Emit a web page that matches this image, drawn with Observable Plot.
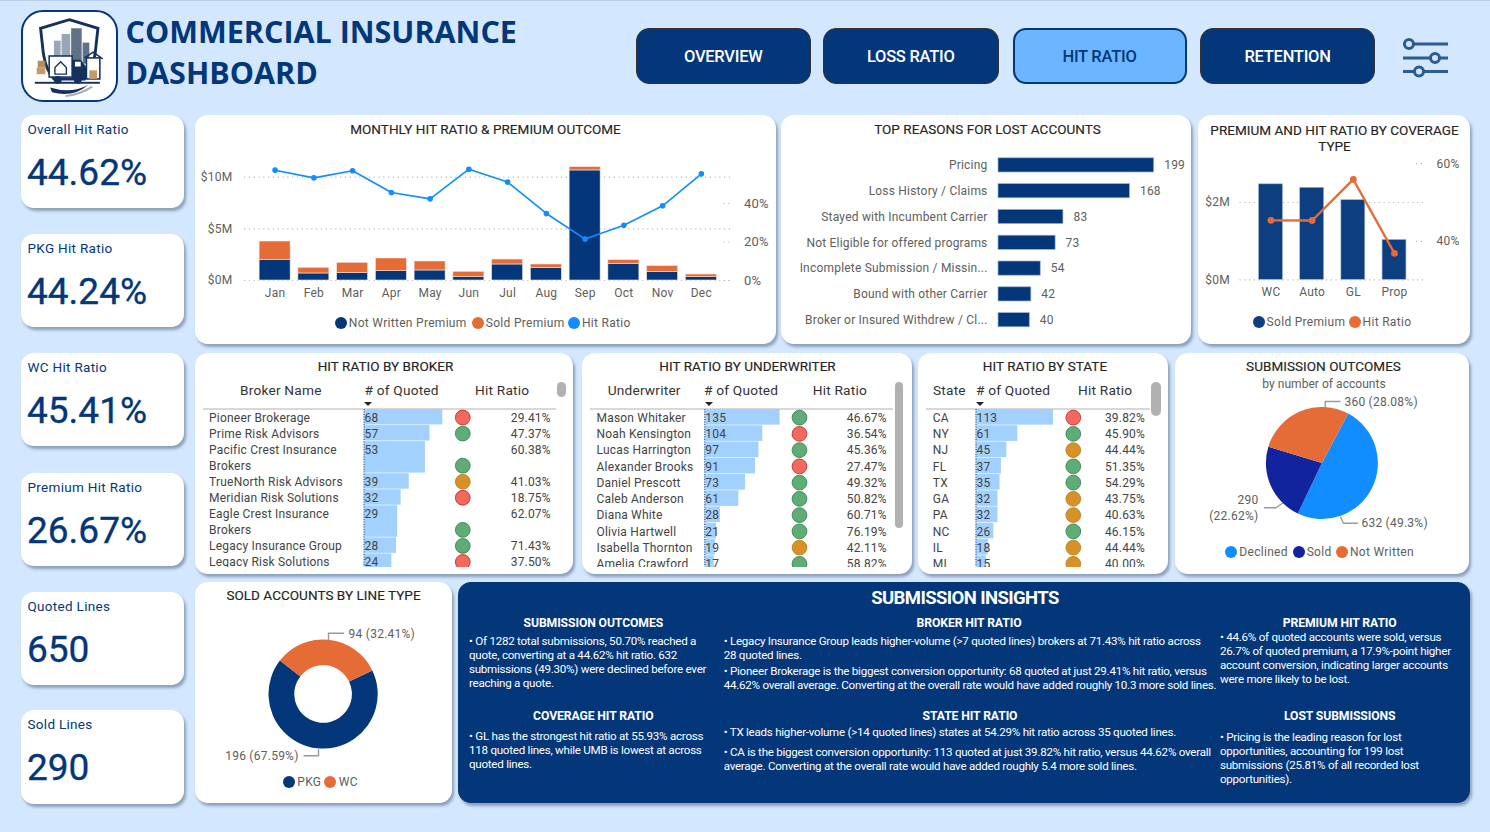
<!DOCTYPE html>
<html><head><meta charset="utf-8">
<script src="https://cdn.jsdelivr.net/npm/d3@7"></script>
<script src="https://cdn.jsdelivr.net/npm/@observablehq/plot@0.6"></script>
<style>
html,body{margin:0;padding:0;background:#D3E8FE;}
#page{position:relative;width:1490px;height:832px;overflow:hidden;background:#D3E8FE;font-family:Roboto,sans-serif;border-top:1px solid #B7CDE6;box-sizing:border-box;}
.abs{position:absolute;white-space:nowrap;}
.card{position:absolute;background:#fff;border-radius:13px;box-shadow:2px 3px 3px rgba(70,90,120,.5);}
.kpiL{position:absolute;left:27.5px;color:#03377A;font-size:13.5px;letter-spacing:.3px;line-height:16px;}
.kpiV{position:absolute;left:27px;color:#03377A;font-size:37px;font-weight:400;line-height:40px;letter-spacing:0;-webkit-text-stroke:.35px #03377A;}
.title{position:absolute;color:#252423;font-size:13.5px;letter-spacing:.04px;text-align:center;line-height:16px;transform:translateX(-50%);white-space:nowrap;-webkit-text-stroke:.15px #252423;}
.nav{position:absolute;top:27px;height:56px;border-radius:13px;background:#03377A;color:#fff;border:1px solid #333;box-sizing:border-box;display:flex;align-items:center;justify-content:center;font-size:16.5px;font-weight:500;letter-spacing:-.25px;}
.nav.on{background:#6CB6FF;color:#03377A;border:2px solid #03377A;}
.lg{position:absolute;color:#605E5C;font-size:12px;letter-spacing:.3px;white-space:nowrap;line-height:14px;}
.dot{position:absolute;width:12px;height:12px;border-radius:50%;}
.th{position:absolute;top:381px;color:#333;font-size:13.7px;letter-spacing:.2px;white-space:nowrap;line-height:17px;}
.ln{position:absolute;left:0;height:1.5px;background:#D8D8D8;}
.arrow{position:absolute;width:0;height:0;border-left:4px solid transparent;border-right:4px solid transparent;border-top:4.5px solid #252423;}
.sb{position:absolute;background:#B3B1AF;border-radius:5px;}
.ins{position:absolute;color:#fff;white-space:nowrap;font-size:11.6px;letter-spacing:-.255px;line-height:14px;}
.insH{position:absolute;color:#fff;white-space:nowrap;font-size:12.2px;font-weight:700;line-height:14px;transform:translateX(-50%);letter-spacing:-.1px;}
</style></head>
<body><div id="page"></div>
<script>
// ---------- data ----------
const months = ["Jan","Feb","Mar","Apr","May","Jun","Jul","Aug","Sep","Oct","Nov","Dec"];
const notWrittenPremium = [1.97,0.68,0.71,0.90,0.97,0.32,1.55,1.19,10.65,1.58,0.81,0.32];
const soldPremium = [1.80,0.55,1.00,1.23,0.87,0.52,0.48,0.36,0.32,0.39,0.58,0.26];
const monthlyHitRatio = [57.3,53.3,57.0,45.7,42.4,57.8,51.1,34.8,21.5,28.7,38.8,55.4];

const lostReasons = ["Pricing","Loss History / Claims","Stayed with Incumbent Carrier","Not Eligible for offered programs","Incomplete Submission / Missin...","Bound with other Carrier","Broker or Insured Withdrew / Cl..."];
const lostCounts = [199,168,83,73,54,42,40];

const coverageTypes = ["WC","Auto","GL","Prop"];
const coveragePremium = [2.47,2.38,2.06,1.03];
const coverageHitRatio = [45.41,45.36,55.93,36.9];

const brokerNames = ["Pioneer Brokerage","Prime Risk Advisors","Pacific Crest Insurance\nBrokers","TrueNorth Risk Advisors","Meridian Risk Solutions","Eagle Crest Insurance\nBrokers","Legacy Insurance Group","Legacy Risk Solutions"];
const brokerQuoted = [68,57,53,39,32,29,28,24];
const brokerHit = [29.41,47.37,60.38,41.03,18.75,62.07,71.43,37.50];

const uwNames = ["Mason Whitaker","Noah Kensington","Lucas Harrington","Alexander Brooks","Daniel Prescott","Caleb Anderson","Diana White","Olivia Hartwell","Isabella Thornton","Amelia Crawford"];
const uwQuoted = [135,104,97,91,73,61,28,21,19,17];
const uwHit = [46.67,36.54,45.36,27.47,49.32,50.82,60.71,76.19,42.11,58.82];

const stateNames = ["CA","NY","NJ","FL","TX","GA","PA","NC","IL","MI"];
const stateQuoted = [113,61,45,37,35,32,32,26,18,15];
const stateHit = [39.82,45.90,44.44,51.35,54.29,43.75,40.63,46.15,44.44,40.00];

const outcomeNames = ["Declined","Sold","Not Written"];
const outcomeCounts = [632,290,360];
const lineTypes = ["PKG","WC"];
const lineCounts = [196,94];

const kpiLabels = ["Overall Hit Ratio","PKG Hit Ratio","WC Hit Ratio","Premium Hit Ratio","Quoted Lines","Sold Lines"];
const kpiValues = ["44.62%","44.24%","45.41%","26.67%","650","290"];
const navLabels = ["OVERVIEW","LOSS RATIO","HIT RATIO","RETENTION"];

// ---------- helpers ----------
const NAVY="#03377A", ORANGE="#E66C37", BLUE="#118DFF", INK="#605E5C";
const page=document.getElementById("page");
function el(cls,css,html){const d=document.createElement("div");d.className=cls;Object.assign(d.style,css);if(html!=null)d.innerHTML=html;page.appendChild(d);return d;}
function px(o){const r={};for(const k in o)r[k]=typeof o[k]==="number"?o[k]+"px":o[k];return r;}
function card(l,t,r,b,bg){return el("card",px({left:l,top:t-1,width:r-l,height:b-t,...(bg?{background:bg}:{})}));}
function place(node,l,t,w,h){const d=el("abs",px({left:l,top:t-1,width:w,height:h,overflow:"hidden"}));d.appendChild(node);}
function title(txt,cx,cy){el("title",px({left:cx,top:cy-10}),txt);}
function legend(items,y){for(const it of items){el("dot",{...px({left:it.c-6,top:y-7}),background:it.color});el("lg",px({left:it.t,top:y-8}),it.label);}}
const svgStyle=(extra={})=>({fontFamily:"Roboto,sans-serif",fontSize:"12px",color:INK,background:"transparent",letterSpacing:".25px",overflow:"hidden",...extra});
const dots="1.2,3.6";
const gridStroke="#BDBBB9";

// ---------- header ----------
el("abs",{...px({left:21,top:9,width:92.5,height:88}),border:"2.5px solid "+NAVY,borderRadius:"22px",background:"#fff"},
`<svg width="92.500" height="88" viewBox="0 0 96 92">
<path d="M48 8 L78 17 L75 44 Q72 62 64 70 L32 70 Q24 62 21 44 L18 17 Z" fill="#fff" stroke="#14305c" stroke-width="3"/>
<g fill="#98A6B8"><rect x="32" y="30" width="7" height="22"/><rect x="40" y="23" width="9" height="30"/></g>
<g fill="#5F7187"><rect x="50" y="17" width="11" height="36"/><rect x="62" y="32" width="7" height="22"/></g>
<rect x="27" y="46" width="24" height="22" fill="#fff" stroke="#14305c" stroke-width="1.6"/>
<path d="M33 58 l6-6 6 6 v7 h-12z" fill="none" stroke="#14305c" stroke-width="1.4"/>
<path d="M51 50 h9 l7 9 v10 h-16z" fill="#14305c"/><rect x="54" y="52" width="6" height="5" fill="#fff"/>
<rect x="66" y="48" width="14" height="22" fill="#fff" stroke="#14305c" stroke-width="1.6"/>
<path d="M64 48 l9-6 10 7" fill="none" stroke="#14305c" stroke-width="1.6"/>
<rect x="69" y="61" width="8" height="9" fill="#C49A6C"/><rect x="14" y="58" width="9" height="7" fill="#C49A6C"/><rect x="15" y="51" width="8" height="7" fill="#B98B5C"/>
<g fill="#14305c"><circle cx="36" cy="71" r="4"/><circle cx="57" cy="71" r="4"/><rect x="12" y="73" width="68" height="2"/></g>
<path d="M28 79 Q50 86 68 76 Q52 90 30 84Z" fill="#14305c"/><path d="M44 88 Q60 86 72 78" fill="none" stroke="#AAB" stroke-width="2"/>
</svg>`);
el("abs",{...px({left:125.5,top:10,lineHeight:41,fontSize:30.5}),color:NAVY,fontFamily:"'Open Sans',sans-serif",fontWeight:"700"},"COMMERCIAL INSURANCE<br>DASHBOARD");
[[635.5,175.5],[823,175.5],[1012.5,174],[1199.8,175.5]].forEach(([l,w],i)=>{
  el("nav"+(i===2?" on":""),px({left:l,width:w}),navLabels[i]);
});
el("abs",px({left:1398,top:32,width:56,height:50}),
`<svg width="56" height="50" viewBox="0 0 56 50"><g stroke="#2C5A93" stroke-width="3" fill="#D3E8FE">
<line x1="5" y1="11" x2="50" y2="11"/><line x1="5" y1="25" x2="50" y2="25"/><line x1="5" y1="38.500" x2="50" y2="38.500"/>
<circle cx="11" cy="11" r="4.500"/><circle cx="37" cy="25" r="4.500"/><circle cx="21" cy="38.500" r="4.500"/></g></svg>`);

// ---------- KPI cards ----------
[[115,208],[234,327],[353,446],[473,566],[592,685],[710,804]].forEach(([t,b],i)=>{
  card(20.7,t,184,b);
  el("kpiL",px({top:t+5}),kpiLabels[i]);
  el("kpiV",px({top:t+37}),kpiValues[i]);
});

// ---------- Monthly chart ----------
card(194.5,115,776.4,344);
title("MONTHLY HIT RATIO &amp; PREMIUM OUTCOME",485.5,130);
{
  const W=582,H=190,ml=50,mr=44.5,mt=6,mb=60;
  const series=["Not Written Premium","Sold Premium"];
  const long=months.flatMap((m,i)=>[{month:m,series:series[0],value:notWrittenPremium[i]},{month:m,series:series[1],value:soldPremium[i]}]);
  const xOpt={type:"band",domain:months,paddingInner:.2,paddingOuter:.39,round:false,axis:null};
  const bars=Plot.plot({width:W,height:H,marginLeft:ml,marginRight:mr,marginTop:mt,marginBottom:mb,style:svgStyle(),
    x:xOpt,y:{domain:[0,12],axis:null},color:{domain:series,range:[NAVY,ORANGE]},
    marks:[
      Plot.ruleY([0,5,10],{stroke:gridStroke,strokeDasharray:dots,strokeWidth:1.2}),
      Plot.barY(long,{x:"month",y:"value",fill:"series",stroke:"#F2E6DF",strokeWidth:.6}),
      Plot.axisX({anchor:"bottom",tickSize:0,tickPadding:8,fontSize:12,label:null}),
      Plot.axisY({ticks:[0,5,10],tickFormat:d=>`$${d}M`,tickSize:0,tickPadding:12,fontSize:12,label:null})
    ]});
  place(bars,194,150,W,H);
  const rows=months.map((m,i)=>({month:m,hit:monthlyHitRatio[i]}));
  const line=Plot.plot({width:W,height:H,marginLeft:ml,marginRight:mr,marginTop:mt,marginBottom:mb,style:svgStyle(),
    x:xOpt,y:{domain:[0,64.4],axis:null},
    marks:[
      Plot.ruleY([0,20,40],{stroke:gridStroke,strokeDasharray:dots,strokeWidth:1.2,insetLeft:W-ml-mr-8}),
      Plot.line(rows,{x:"month",y:"hit",stroke:BLUE,strokeWidth:1.6}),
      Plot.dot(rows,{x:"month",y:"hit",fill:BLUE,r:2.8}),
      Plot.axisY({anchor:"right",ticks:[0,20,40],tickFormat:d=>d+"%",tickSize:0,tickPadding:12,fontSize:13,label:null})
    ]});
  place(line,194,150,W,H);
  legend([{c:340.5,t:348.8,color:NAVY,label:"Not Written Premium"},{c:478,t:485.8,color:ORANGE,label:"Sold Premium"},{c:573.9,t:582,color:BLUE,label:"Hit Ratio"}],323);
}

// ---------- Top reasons ----------
card(781,115,1190.7,344);
title("TOP REASONS FOR LOST ACCOUNTS",987.5,130);
{
  const W=411,H=185,rows=lostReasons.map((r,i)=>({reason:r,count:lostCounts[i]}));
  place(Plot.plot({width:W,height:H,marginLeft:217,marginRight:38.3,marginTop:2,marginBottom:2.400,style:svgStyle({letterSpacing:".2px"}),
    x:{domain:[0,199],axis:null},y:{domain:lostReasons,paddingInner:.45,paddingOuter:.225,round:false,axis:null},
    marks:[
      Plot.barX(rows,{y:"reason",x:"count",fill:NAVY,stroke:"#9DB2CF",strokeWidth:.7}),
      Plot.text(rows,{y:"reason",x:"count",text:d=>String(d.count),dx:10,textAnchor:"start",fill:INK,fontSize:12}),
      Plot.axisY({tickSize:0,tickPadding:11,fontSize:12,label:null})
    ]}),781,150,W,H);
}

// ---------- Coverage ----------
card(1198,115,1470,344);
el("title",px({left:1334.500,top:121}),"PREMIUM AND HIT RATIO BY COVERAGE<br>TYPE");
{
  const W=272,H=190,ml=41.5,mr=45,mt=5,mb=60.7;
  const rows=coverageTypes.map((c,i)=>({type:c,prem:coveragePremium[i],hit:coverageHitRatio[i]}));
  const xOpt={type:"band",domain:coverageTypes,paddingInner:.42,paddingOuter:.463,round:false,axis:null};
  place(Plot.plot({width:W,height:H,marginLeft:ml,marginRight:mr,marginTop:mt,marginBottom:mb,style:svgStyle(),
    x:xOpt,y:{domain:[0,3.216],axis:null},
    marks:[
      Plot.ruleY([0,2],{stroke:gridStroke,strokeDasharray:dots,strokeWidth:1.2}),
      Plot.barY(rows,{x:"type",y:"prem",fill:"#0D3E80",stroke:"#9DB2CF",strokeWidth:.6}),
      Plot.axisX({anchor:"bottom",tickSize:0,tickPadding:8,fontSize:12,label:null}),
      Plot.axisY({ticks:[0,2],tickFormat:d=>`$${d}M`,tickSize:0,tickPadding:10,fontSize:12,label:null})
    ]}),1198,150,W,H);
  place(Plot.plot({width:W,height:H,marginLeft:ml,marginRight:mr,marginTop:mt,marginBottom:mb,style:svgStyle(),
    x:xOpt,y:{domain:[30.1,62.1],axis:null},
    marks:[
      Plot.ruleY([40,60],{stroke:gridStroke,strokeDasharray:dots,strokeWidth:1.2,insetLeft:W-ml-mr-9}),
      Plot.line(rows,{x:"type",y:"hit",stroke:ORANGE,strokeWidth:2.4}),
      Plot.dot(rows,{x:"type",y:"hit",fill:ORANGE,r:3.4}),
      Plot.axisY({anchor:"right",ticks:[40,60],tickFormat:d=>d+"%",tickSize:0,tickPadding:11,fontSize:12,label:null})
    ]}),1198,150,W,H);
  legend([{c:1258.6,t:1266.6,color:"#0D3E80",label:"Sold Premium"},{c:1355,t:1362.6,color:ORANGE,label:"Hit Ratio"}],322);
}

// ---------- Tables ----------
const statusScale=d3.scaleThreshold().domain([40,45]);
const fillOf=statusScale.copy().range(["#F4695C","#D69228","#5FAD76"]);
const strokeOf=statusScale.copy().range(["#B3261E","#B47A1C","#34794A"]);
function hitTable({names,quoted,hit,cardL,cardR,x0,xMax,nameX,dotX,pctR,rowH}){
  const W=cardR-cardL,H=157.4;
  let cum=0;
  const rows=names.map((n,i)=>{const lines=n.split("\n").length,start=cum;cum+=lines;
    return {name:n,quoted:quoted[i],hit:hit[i],start,end:cum,textY:start+.5,dotY:cum-.5};});
  const f=d=>d.toFixed(2)+"%";
  place(Plot.plot({width:W,height:H,margin:0,style:svgStyle({letterSpacing:".2px"}),
    x:{domain:[0,d3.max(quoted)],range:[x0-cardL,xMax-cardL],axis:null},
    y:{domain:[0,H/rowH],range:[0,H],axis:null},
    marks:[
      Plot.rect(rows,{x1:()=>0,x2:"quoted",y1:"start",y2:"end",fill:"#A3D1FF",insetBottom:.6}),
      Plot.ruleX([0],{stroke:"#33475E",strokeDasharray:"1,1.500",strokeWidth:1}),
      Plot.text(rows,{y:"start",text:"name",frameAnchor:"left",dx:nameX-cardL,textAnchor:"start",lineAnchor:"top",dy:1,lineHeight:1.333,fill:"#444",fontSize:12}),
      Plot.text(rows,{y:"textY",text:d=>String(d.quoted),frameAnchor:"left",dx:x0-cardL+.5,dy:.5,textAnchor:"start",fill:"#444",fontSize:12}),
      Plot.dot(rows,{y:"dotY",frameAnchor:"left",dx:dotX-cardL,r:7.400,fill:d=>fillOf(d.hit),stroke:d=>strokeOf(d.hit),strokeWidth:.8}),
      Plot.text(rows,{y:"textY",text:d=>f(d.hit),frameAnchor:"right",dx:pctR-cardR,dy:.5,textAnchor:"end",fill:"#444",fontSize:12})
    ]}),cardL,409.3,W,H);
}
function tableChrome(ths,lnL,lnR,arrowX,sb){
  ths.forEach(([t,x])=>el("th",px({left:x}),t));
  el("ln",px({left:lnL,top:407,width:lnR-lnL}));
  el("arrow",px({left:arrowX-4,top:400.5}));
  el("sb",px({left:sb[0],top:sb[1]-1,width:sb[2],height:sb[3]}));
}
card(194.7,353,573,574);
title("HIT RATIO BY BROKER",385.500,367);
tableChrome([["Broker Name",240],["# of Quoted",364.500],["Hit Ratio",475]],203,556,368,[557.3,382,8.4,14.7]);
hitTable({names:brokerNames,quoted:brokerQuoted,hit:brokerHit,cardL:194.7,cardR:573,x0:363.3,xMax:442,nameX:208.3,dotX:462,pctR:550,rowH:16.05});

card(581.7,353,911.7,574);
title("HIT RATIO BY UNDERWRITER",747.500,367);
tableChrome([["Underwriter",607.7],["# of Quoted",704],["Hit Ratio",812.7]],590,893.3,708.500,[895,382,7.7,145.7]);
hitTable({names:uwNames,quoted:uwQuoted,hit:uwHit,cardL:581.7,cardR:911.7,x0:704,xMax:779.3,nameX:595.7,dotX:798.7,pctR:886,rowH:16.25});

card(918,353,1168,574);
title("HIT RATIO BY STATE",1045,367);
tableChrome([["State",933],["# of Quoted",976],["Hit Ratio",1078]],926,1150,980,[1151,382,9.500,34]);
hitTable({names:stateNames,quoted:stateQuoted,hit:stateHit,cardL:918,cardR:1168,x0:975.5,xMax:1053,nameX:932.3,dotX:1072.8,pctR:1144.5,rowH:16.25});

// ---------- Pie / donut ----------
function pct(v,total){return parseFloat((v/total*100).toFixed(2))+"%";}
function pieChart({names,counts,colors,startDeg,outer,inner,L,T,W,H,cx,cy,labelLayout}){
  const total=d3.sum(counts);
  const rows=names.map((n,i)=>({name:n,count:counts[i]}));
  const labels=rows.map((r,i)=>({...labelLayout[i],text:`${r.count}${labelLayout[i].wrap?"\n":" "}(${pct(r.count,total)})`}));
  const leader=labels.flatMap((l,i)=>l.leader.map(([x,y])=>({x,y,k:i})));
  const wedges={render(index,scales,values,dims){
    const s=startDeg*Math.PI/180;
    const arcs=d3.pie().sort(null).value(d=>d.count).startAngle(s).endAngle(s+2*Math.PI)(rows);
    const arc=d3.arc().innerRadius(inner).outerRadius(outer);
    const g=d3.create("svg:g").attr("transform",`translate(${scales.x(0)},${scales.y(0)})`);
    g.selectAll("path").data(arcs).join("path").attr("d",arc).attr("fill",d=>scales.color(d.data.name));
    return g.node();
  }};
  place(Plot.plot({width:W,height:H,margin:0,style:svgStyle(),
    x:{domain:[-cx,W-cx],range:[0,W],axis:null},y:{domain:[-cy,H-cy],range:[0,H],axis:null},
    color:{domain:names,range:colors},
    marks:[
      Plot.dot(rows,{frameAnchor:"middle",fill:"name",...wedges}),
      Plot.line(leader,{x:"x",y:"y",z:"k",stroke:"#9A9A9A",strokeWidth:1.4}),
      Plot.text(labels.filter(l=>l.side==="start"),{x:"tx",y:"ty",text:"text",textAnchor:"start",lineHeight:1.333,fill:INK,fontSize:12}),
      Plot.text(labels.filter(l=>l.side==="end"),{x:"tx",y:"ty",text:"text",textAnchor:"end",lineHeight:1.333,fill:INK,fontSize:12})
    ]}),L,T,W,H);
}
card(1175,353,1469,574);
title("SUBMISSION OUTCOMES",1323.500,367);
el("title",{...px({left:1324,top:375,fontSize:12}),color:INK,webkitTextStroke:"0"},"by number of accounts");
pieChart({names:outcomeNames,counts:outcomeCounts,colors:[BLUE,"#12239E",ORANGE],startDeg:28,outer:56,inner:0,L:1175,T:392,W:294,H:140,cx:146.9,cy:71,
  labelLayout:[
    {tx:39,ty:58,side:"start",leader:[[18.3,53.7],[21,59.7],[35,59.7]]},
    {tx:-64,ty:43,side:"end",wrap:true,leader:[[-58,44.3],[-46.500,44.3],[-40,39.700]]},
    {tx:22,ty:-63,side:"start",leader:[[2.8,-56.3],[2.8,-62],[17.6,-62]]}
  ]});
legend([{c:1231.4,t:1239.3,color:BLUE,label:"Declined"},{c:1298.8,t:1306.7,color:"#12239E",label:"Sold"},{c:1342,t:1350,color:ORANGE,label:"Not Written"}],551.7);

card(194.7,581.7,451.7,803);
title("SOLD ACCOUNTS BY LINE TYPE",323.500,596);
pieChart({names:lineTypes,counts:lineCounts,colors:[NAVY,ORANGE],startDeg:64.4,outer:54.6,inner:28.8,L:194.7,T:610,W:257,H:160,cx:128.1,cy:84,
  labelLayout:[
    {tx:-25,ty:60.500,side:"end",leader:[[-19.5,61.3],[-5.1,61.3],[-5.1,55.3]]},
    {tx:25,ty:-62,side:"start",leader:[[4.9,-54.7],[4.9,-61.3],[19.9,-61.3]]}
  ]});
legend([{c:289.3,t:297.3,color:NAVY,label:"PKG"},{c:330.3,t:338.7,color:ORANGE,label:"WC"}],781.7);

// ---------- Insights ----------
card(457.7,581.7,1470,803,NAVY);
el("insH",{...px({left:965,top:587,fontSize:18.5,lineHeight:20}),letterSpacing:"-.6px"},"SUBMISSION INSIGHTS");
function heading(t,cx,y){el("insH",px({left:cx,top:y-7.5}),t);}
function para(x,lines){lines.forEach(([t,y])=>el("ins",px({left:x,top:y-8}),t));}
heading("SUBMISSION OUTCOMES",593.3,622.7);
para(469,[["• Of 1282 total submissions, 50.70% reached a",641.3],["quote, converting at a 44.62% hit ratio. 632",655.3],["submissions (49.30%) were declined before ever",669.3],["reaching a quote.",683.3]]);
heading("COVERAGE HIT RATIO",593.3,715.3);
para(469,[["• GL has the strongest hit ratio at 55.93% across",736],["118 quoted lines, while UMB is lowest at across",750],["quoted lines.",764.3]]);
heading("BROKER HIT RATIO",969,622.7);
para(723.7,[["• Legacy Insurance Group leads higher-volume (&gt;7 quoted lines) brokers at 71.43% hit ratio across",641.3],["28 quoted lines.",655.3],["• Pioneer Brokerage is the biggest conversion opportunity: 68 quoted at just 29.41% hit ratio, versus",671],["44.62% overall average. Converting at the overall rate would have added roughly 10.3 more sold lines.",685]]);
heading("STATE HIT RATIO",970,715.3);
para(723.7,[["• TX leads higher-volume (&gt;14 quoted lines) states at 54.29% hit ratio across 35 quoted lines.",732],["• CA is the biggest conversion opportunity: 113 quoted at just 39.82% hit ratio, versus 44.62% overall",752.3],["average. Converting at the overall rate would have added roughly 5.4 more sold lines.",766]]);
heading("PREMIUM HIT RATIO",1339.7,622.7);
para(1220,[["• 44.6% of quoted accounts were sold, versus",637.3],["26.7% of quoted premium, a 17.9%-point higher",651.3],["account conversion, indicating larger accounts",665.3],["were more likely to be lost.",679.3]]);
heading("LOST SUBMISSIONS",1339.7,715.3);
para(1220,[["• Pricing is the leading reason for lost",737.3],["opportunities, accounting for 199 lost",751.3],["submissions (25.81% of all recorded lost",765.3],["opportunities).",779.3]]);
</script></body></html>
